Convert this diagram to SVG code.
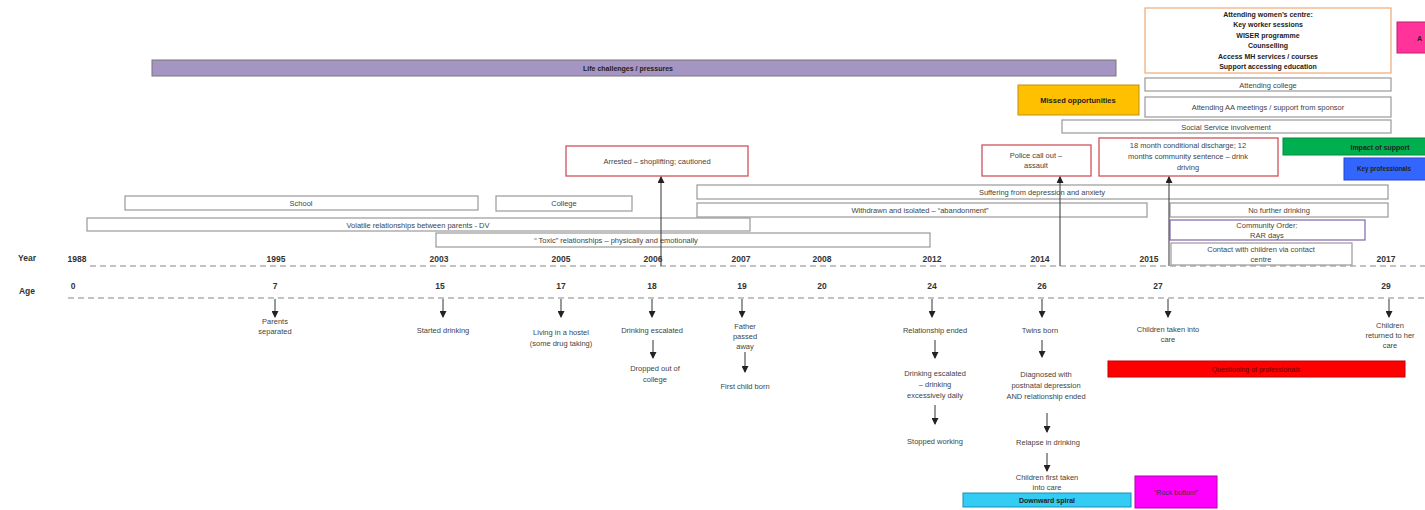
<svg xmlns="http://www.w3.org/2000/svg" width="1425" height="510" viewBox="0 0 1425 510">
<style>
text{font-family:"Liberation Sans",Arial,sans-serif;fill:#444;font-size:7.5px;text-anchor:middle}
.b{font-weight:bold;fill:#222}
.lab{font-weight:bold;font-size:8.5px;fill:#333}
.box{fill:#fff;stroke:#999;stroke-width:1.2}
.red{fill:#fff;stroke:#D0505A;stroke-width:1.3}
.ln{stroke:#444;stroke-width:1.1;fill:none}
.dash{stroke:#888;stroke-width:1.2;stroke-dasharray:6,4;fill:none}
</style>
<defs>
<marker id="ah" markerUnits="userSpaceOnUse" markerWidth="7" markerHeight="7" refX="6" refY="3.5" orient="auto"><path d="M0,0 L7,3.5 L0,7 z" fill="#222"/></marker>
</defs>
<rect width="1425" height="510" fill="#fff"/>

<g id="axes">
<text class="lab" x="27" y="261">Year</text>
<text class="lab" x="27" y="294">Age</text>
<line class="dash" x1="90" y1="266" x2="1425" y2="266"/>
<line class="dash" x1="68" y1="298" x2="1425" y2="298"/>
<text class="lab" x="77" y="262">1988</text>
<text class="lab" x="276" y="262">1995</text>
<text class="lab" x="439" y="262">2003</text>
<text class="lab" x="561" y="262">2005</text>
<text class="lab" x="653" y="262">2006</text>
<text class="lab" x="741" y="262">2007</text>
<text class="lab" x="822" y="262">2008</text>
<text class="lab" x="932" y="262">2012</text>
<text class="lab" x="1040" y="262">2014</text>
<text class="lab" x="1149" y="262">2015</text>
<text class="lab" x="1386" y="262">2017</text>
<text class="lab" x="73" y="289">0</text>
<text class="lab" x="275" y="289">7</text>
<text class="lab" x="440" y="289">15</text>
<text class="lab" x="561" y="289">17</text>
<text class="lab" x="652" y="289">18</text>
<text class="lab" x="742" y="289">19</text>
<text class="lab" x="822" y="289">20</text>
<text class="lab" x="932" y="289">24</text>
<text class="lab" x="1042" y="289">26</text>
<text class="lab" x="1158" y="289">27</text>
<text class="lab" x="1386" y="289">29</text>
</g>

<g id="life">
<rect x="152" y="60" width="964" height="16" fill="#A595C2" stroke="#777" stroke-width="1"/>
<text class="b" x="628" y="70.5" style="font-size:7px">Life challenges / pressures</text>
</g>
<g id="womens-centre">
<rect x="1145" y="8" width="246" height="65" fill="#fff" stroke="#F0B080" stroke-width="1.3"/>
<text class="b" x="1268" y="17" style="font-size:7px">Attending women’s centre:</text>
<text class="b" x="1268" y="27" style="font-size:7px">Key worker sessions</text>
<text class="b" x="1268" y="38" style="font-size:7px">WISER programme</text>
<text class="b" x="1268" y="48" style="font-size:7px">Counselling</text>
<text class="b" x="1268" y="59" style="font-size:7px">Access MH services / courses</text>
<text class="b" x="1268" y="69" style="font-size:7px">Support accessing education</text>
</g>
<g id="pink-top">
<rect x="1397" y="22" width="40" height="31" fill="#FF3399" stroke="#C02070" stroke-width="1"/>
<text class="b" x="1417" y="41" style="text-anchor:start;font-size:7px">A</text>
</g>
<g id="college2"><rect class="box" x="1145" y="78" width="246" height="13"/><text x="1268" y="87.5">Attending college</text></g>
<g id="missed">
<rect x="1018" y="85" width="121" height="30" fill="#FFC000" stroke="#C09010" stroke-width="1"/>
<text class="b" x="1078" y="102.5" style="font-size:7.5px">Missed opportunities</text>
</g>
<g id="aa"><rect class="box" x="1145" y="97" width="246" height="20"/><text x="1268" y="109.5">Attending AA meetings / support from sponsor</text></g>
<g id="social"><rect class="box" x="1062" y="120" width="329" height="13"/><text x="1226" y="129.5">Social Service involvement</text></g>
<g id="police"><rect class="red" x="982" y="145" width="109" height="31"/><text x="1036" y="158">Police call out –</text><text x="1036" y="168">assault</text></g>
<g id="discharge"><rect class="red" x="1099" y="138" width="179" height="38"/>
<text x="1188" y="148">18 month conditional discharge; 12</text><text x="1188" y="159">months community sentence – drink</text><text x="1188" y="170">driving</text></g>
<g id="impact"><rect x="1283" y="138" width="150" height="17" fill="#00B050" stroke="#008A3A" stroke-width="1"/><text class="b" x="1380" y="149.5" style="font-size:7px">Impact of support</text></g>
<g id="key"><rect x="1344" y="158" width="90" height="22" fill="#3366FF" stroke="#2244CC" stroke-width="1"/><text class="b" x="1384" y="171" style="font-size:6.3px">Key professionals</text></g>
<g id="arrested"><rect class="red" x="566" y="146" width="182" height="30"/><text x="657" y="163.5">Arrested – shoplifting; cautioned</text></g>
<g id="depression"><rect class="box" x="697" y="185" width="691" height="14"/><text x="1042" y="194.5">Suffering from depression and anxiety</text></g>
<g id="school"><rect class="box" x="125" y="196" width="353" height="14"/><text x="301" y="205.5">School</text></g>
<g id="college1"><rect class="box" x="496" y="196" width="136" height="15"/><text x="564" y="206">College</text></g>
<g id="withdrawn"><rect class="box" x="697" y="203" width="450" height="14"/><text x="920" y="212.5">Withdrawn and isolated – “abandonment”</text></g>
<g id="nodrink"><rect class="box" x="1170" y="203" width="218" height="14"/><text x="1279" y="212.5">No further drinking</text></g>
<g id="volatile"><rect class="box" x="87" y="218" width="663" height="13"/><text x="418" y="227.5">Volatile relationships between parents - DV</text></g>
<g id="community"><rect x="1170" y="220" width="195" height="20" fill="#fff" stroke="#8A70B0" stroke-width="1.3"/><text x="1267" y="228">Community Order:</text><text x="1267" y="237.5">RAR days</text></g>
<g id="toxic"><rect class="box" x="436" y="233" width="494" height="14"/><text x="616" y="242.5">“ Toxic” relationships – physically and emotionally</text></g>
<g id="contact"><rect class="box" x="1171" y="243" width="181" height="22"/><text x="1261" y="251.5">Contact with children via contact</text><text x="1261" y="261.5">centre</text></g>

<g id="events">
<text x="275" y="324">Parents</text><text x="275" y="334">separated</text>
<text x="443" y="333">Started drinking</text>
<text x="561" y="335">Living in a hostel</text><text x="561" y="346">(some drug taking)</text>
<text x="652" y="333">Drinking escalated</text>
<text x="655" y="371">Dropped out of</text><text x="655" y="382">college</text>
<text x="745" y="329">Father</text><text x="745" y="339">passed</text><text x="745" y="349">away</text>
<text x="745" y="389">First child born</text>
<text x="935" y="333">Relationship ended</text>
<text x="935" y="376">Drinking escalated</text><text x="935" y="387">– drinking</text><text x="935" y="398">excessively daily</text>
<text x="935" y="444">Stopped working</text>
<text x="1040" y="333">Twins born</text>
<text x="1046" y="377">Diagnosed with</text><text x="1046" y="388">postnatal depression</text><text x="1046" y="399">AND relationship ended</text>
<text x="1048" y="445">Relapse in drinking</text>
<text x="1047" y="480">Children first taken</text><text x="1047" y="490">into care</text>
<text x="1168" y="332">Children taken into</text><text x="1168" y="342">care</text>
<text x="1390" y="328">Children</text><text x="1390" y="338">returned to her</text><text x="1390" y="348">care</text>
</g>
<g id="questioning"><rect x="1108" y="361" width="297" height="16" fill="#FF0000" stroke="#C00000" stroke-width="1"/><text x="1256" y="371.5" style="fill:#600;font-size:7px">Questioning of professionals</text></g>
<g id="spiral"><rect x="963" y="493" width="168" height="14" fill="#33CCF5" stroke="#1890B0" stroke-width="1"/><text class="b" x="1047" y="502.5" style="font-size:7px">Downward spiral</text></g>
<g id="rock"><rect x="1135" y="476" width="82" height="32" fill="#FF00FF" stroke="#B000B0" stroke-width="1"/><text x="1176" y="494.5" style="fill:#333;font-size:7px">“Rock bottom”</text></g>

<g id="connectors">
<line class="ln" x1="275" y1="299" x2="275" y2="317" marker-end="url(#ah)"/>
<line class="ln" x1="443" y1="299" x2="443" y2="317" marker-end="url(#ah)"/>
<line class="ln" x1="561" y1="299" x2="561" y2="317" marker-end="url(#ah)"/>
<line class="ln" x1="652" y1="299" x2="652" y2="317" marker-end="url(#ah)"/>
<line class="ln" x1="653" y1="340" x2="653" y2="358" marker-end="url(#ah)"/>
<line class="ln" x1="742" y1="299" x2="742" y2="317" marker-end="url(#ah)"/>
<line class="ln" x1="745" y1="352" x2="745" y2="372" marker-end="url(#ah)"/>
<line class="ln" x1="932" y1="299" x2="932" y2="317" marker-end="url(#ah)"/>
<line class="ln" x1="935" y1="340" x2="935" y2="358" marker-end="url(#ah)"/>
<line class="ln" x1="935" y1="405" x2="935" y2="424" marker-end="url(#ah)"/>
<line class="ln" x1="1042" y1="299" x2="1042" y2="317" marker-end="url(#ah)"/>
<line class="ln" x1="1042" y1="340" x2="1042" y2="357" marker-end="url(#ah)"/>
<line class="ln" x1="1047" y1="413" x2="1047" y2="432" marker-end="url(#ah)"/>
<line class="ln" x1="1047" y1="453" x2="1047" y2="471" marker-end="url(#ah)"/>
<line class="ln" x1="1168" y1="299" x2="1168" y2="317" marker-end="url(#ah)"/>
<line class="ln" x1="1389" y1="299" x2="1389" y2="317" marker-end="url(#ah)"/>
<line class="ln" x1="661" y1="266" x2="661" y2="177" marker-end="url(#ah)"/>
<line class="ln" x1="1060" y1="266" x2="1060" y2="177" marker-end="url(#ah)"/>
<line class="ln" x1="1169" y1="266" x2="1169" y2="177" marker-end="url(#ah)"/>
</g>
</svg>
